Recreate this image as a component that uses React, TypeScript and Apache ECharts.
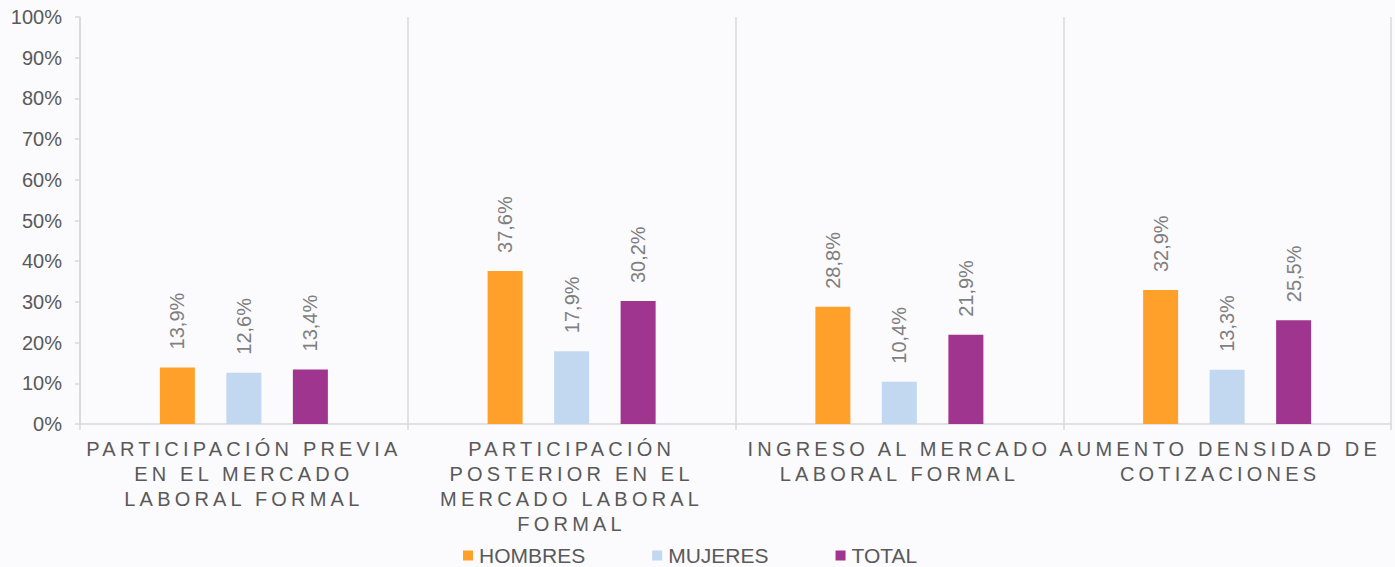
import React, { useEffect, useRef } from "react";
import * as echarts from "echarts";

const categories = [
  "PARTICIPACIÓN PREVIA\nEN EL MERCADO\nLABORAL FORMAL",
  "PARTICIPACIÓN\nPOSTERIOR EN EL\nMERCADO LABORAL\nFORMAL",
  "INGRESO AL MERCADO\nLABORAL FORMAL",
  "AUMENTO DENSIDAD DE\nCOTIZACIONES",
];
const hombres = [13.9, 37.6, 28.8, 32.9];
const mujeres = [12.6, 17.9, 10.4, 13.3];
const total = [13.4, 30.2, 21.9, 25.5];
const seriesNames = ["HOMBRES", "MUJERES", "TOTAL"];
const seriesColors = ["#FFA02A", "#C2D8F1", "#A03590"];

const FONT = '"Liberation Sans", Arial, sans-serif';
const TEXT_COLOR = "#595959";
const LABEL_COLOR = "#7F7F7F";
const LINE_COLOR = "#D9D9D9";

export default function App() {
  const ref = useRef<HTMLDivElement>(null);

  useEffect(() => {
    document.body.style.margin = "0";
    const el = ref.current!;
    const chart = echarts.init(el, undefined, { renderer: "svg" });
    const fmt = (p: any) => `${Number(p.value).toFixed(1).replace(".", ",")}%`;
    const data = [hombres, mujeres, total];
    chart.setOption({
      animation: false,
      backgroundColor: "#FBFAFD",
      textStyle: { fontFamily: FONT },
      grid: { left: 80, right: 4, top: 17, bottom: 143, containLabel: false },
      legend: {
        left: 463,
        top: 545,
        padding: 0,
        itemWidth: 10,
        itemHeight: 10,
        itemGap: 67,
        icon: "rect",
        textStyle: {
          fontSize: 21,
          lineHeight: 21,
          color: TEXT_COLOR,
          fontFamily: FONT,
          padding: [0, 0, 0, 1],
        },
        data: seriesNames,
      },
      xAxis: {
        type: "category",
        data: categories,
        axisLine: { show: true, lineStyle: { color: LINE_COLOR, width: 1.5 } },
        axisTick: { show: true, length: 6, lineStyle: { color: LINE_COLOR, width: 1.5 } },
        splitLine: { show: true, lineStyle: { color: LINE_COLOR, width: 1.5 } },
        axisLabel: {
          interval: 0,
          margin: 12,
          fontSize: 20,
          lineHeight: 25,
          color: TEXT_COLOR,
          fontFamily: FONT,
          align: "center",
        },
      },
      yAxis: {
        type: "value",
        min: 0,
        max: 100,
        interval: 10,
        axisLine: { show: true, lineStyle: { color: LINE_COLOR, width: 1.5 } },
        axisTick: { show: true, length: 5, lineStyle: { color: LINE_COLOR, width: 1.5 } },
        splitLine: { show: false },
        axisLabel: {
          margin: 18,
          fontSize: 20,
          color: TEXT_COLOR,
          fontFamily: FONT,
          formatter: (v: number) => `${v}%`,
        },
      },
      series: seriesNames.map((name, i) => ({
        name,
        type: "bar",
        data: data[i],
        barWidth: 35,
        barGap: "90%",
        itemStyle: { color: seriesColors[i] },
        label: {
          show: true,
          position: "top",
          rotate: 90,
          align: "left",
          verticalAlign: "middle",
          distance: 18,
          fontSize: 20,
          color: LABEL_COLOR,
          fontFamily: FONT,
          formatter: fmt,
        },
      })),
    });

    const lines = new Map<string, number>();
    categories.forEach((c, ci) =>
      c.split("\n").forEach((l) => lines.set(l, ci === 3 ? -7 : 0))
    );
    const applySpacing = () => {
      el.querySelectorAll("text").forEach((t) => {
        const s = (t.textContent || "").trim();
        if (lines.has(s)) {
          (t as SVGTextElement).style.letterSpacing = "4.2px";
          t.setAttribute("dx", String(lines.get(s)));
        }
      });
    };
    applySpacing();
    chart.on("finished", applySpacing);
    const timer = setTimeout(applySpacing, 50);

    return () => {
      clearTimeout(timer);
      chart.dispose();
    };
  }, []);

  return <div ref={ref} style={{ width: 1395, height: 567 }} />;
}
